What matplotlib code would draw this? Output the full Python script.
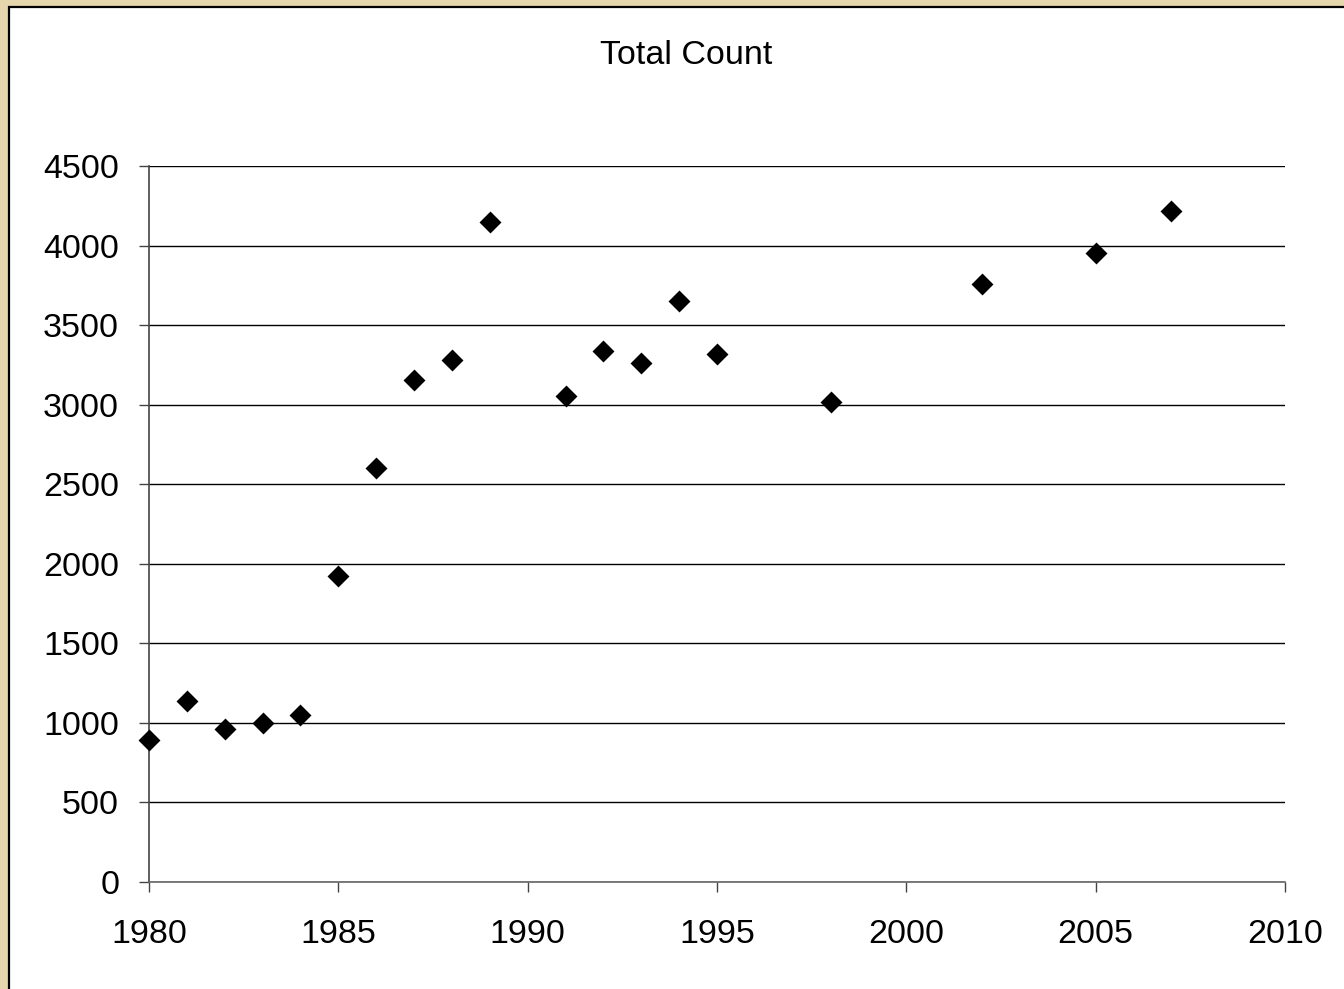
import matplotlib
matplotlib.use("Agg")
import matplotlib.pyplot as plt
from matplotlib.patches import Rectangle

years = [1980, 1981, 1982, 1983, 1984, 1985, 1986, 1987, 1988, 1989,
         1991, 1992, 1993, 1994, 1995, 1998, 2002, 2005, 2007]
counts = [893, 1138, 962, 999, 1050, 1923, 2600, 3158, 3281, 4145,
          3054, 3336, 3263, 3652, 3318, 3017, 3758, 3953, 4217]
x_ticks = [1980, 1985, 1990, 1995, 2000, 2005, 2010]
y_ticks = [0, 500, 1000, 1500, 2000, 2500, 3000, 3500, 4000, 4500]
title = "Total Count"

W, H = 1344, 989
plt.rcParams['font.family'] = ['Liberation Sans', 'DejaVu Sans']
fig = plt.figure(figsize=(W / 100, H / 100), dpi=100)
fig.patch.set_facecolor('#E6D6AE')

# white panel with black top/left border
panel = Rectangle((8.5 / W, 0 - 0.01), 1.1, (H - 7) / H + 0.01,
                  transform=fig.transFigure, facecolor='white',
                  edgecolor='black', linewidth=1.6, zorder=-5)
fig.patches.append(panel)

l, r = 149 / W, 1285 / W
b, t = 1 - 882 / H, 1 - 166 / H
ax = fig.add_axes([l, b, r - l, t - b])
ax.set_zorder(2)
ax.set_facecolor('none')

ax.scatter(years, counts, marker='D', s=125, color='black', linewidths=0,
           zorder=3, clip_on=False)

ax.set_xlim(1980, 2010)
ax.set_ylim(0, 4500)
ax.set_xticks(x_ticks)
ax.set_yticks(y_ticks)
ax.tick_params(axis='both', labelsize=24.5, direction='out', length=7.5,
               width=1, color='#444444')
ax.tick_params(axis='y', pad=14)
ax.tick_params(axis='x', pad=19)
ax.yaxis.grid(True, color='black', linewidth=1)
ax.set_axisbelow(True)
for s in ['top', 'right']:
    ax.spines[s].set_visible(False)
ax.spines['left'].set_color('#444444')
ax.spines['bottom'].set_color('#666666')
ax.spines['left'].set_linewidth(1.2)
ax.spines['bottom'].set_linewidth(1.2)

fig.text(686 / W, 1 - 56 / H, title, ha='center', va='center', fontsize=24.5,
         zorder=3)

fig.savefig('out.png', dpi=100, facecolor=fig.get_facecolor())
